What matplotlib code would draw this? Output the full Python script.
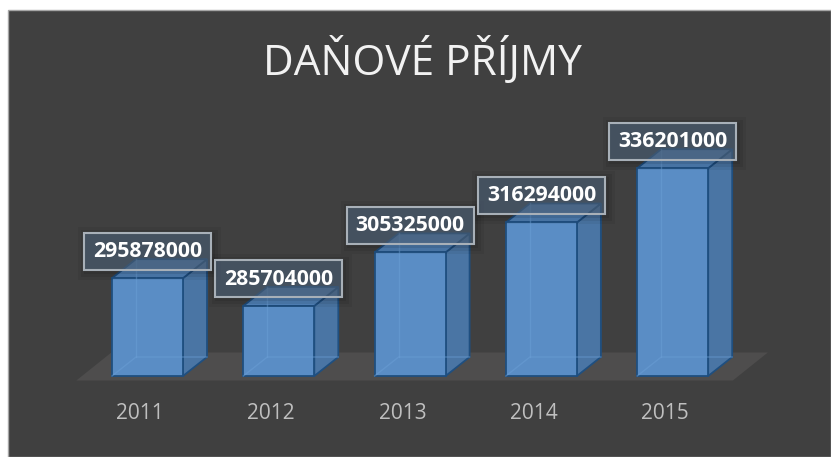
import matplotlib
matplotlib.use("Agg")
import matplotlib.pyplot as plt
from matplotlib.patches import Polygon, Rectangle
from matplotlib.lines import Line2D

# ---- data ----
categories = ["2011", "2012", "2013", "2014", "2015"]
values = [295878000, 285704000, 305325000, 316294000, 336201000]
label_texts = ["295878000", "285704000", "305325000", "316294000", "336201000"]
title = "DAŇOVÉ PŘÍJMY"
axis_min = 260000000

# ---- layout (pixels) ----
W, H = 831, 457
CENTER0_PX = 147.5      # x pixel of first category
STEP_PX = 131.3         # pixels per category
BASE_PY = 376.0         # y pixel (from top) of the axis minimum
PX_PER_VAL = 2.727e-6   # pixels per value unit
BAR_W = 71 / STEP_PX    # in category units
DEPTH = (24, 19)        # bar depth offset, px (right, up)
FLOOR_OFF = (-5.5, -4.5)  # floor front relative to bar front plane, px (right, up)
FLOOR_DEPTH = (35, 28)

fig = plt.figure(figsize=(W / 100, H / 100), dpi=100, facecolor="white")
fig.add_artist(Rectangle((7.5 / W, 0), (W - 7.5) / W, (H - 9.5) / H,
                         transform=fig.transFigure, facecolor="#404040",
                         edgecolor="#a6a6a6", linewidth=1.0, zorder=0))

ax = fig.add_axes([0, 0, 1, 1])
ax.set_xlim(-CENTER0_PX / STEP_PX, (W - CENTER0_PX) / STEP_PX)
ax.set_ylim(axis_min - (H - BASE_PY) / PX_PER_VAL, axis_min + BASE_PY / PX_PER_VAL)
ax.axis("off")
ax.patch.set_alpha(0)

def dx(px):
    return px / STEP_PX

def dy(px):
    return px / PX_PER_VAL

# floor
n = len(categories)
fx0 = -0.5 + dx(FLOOR_OFF[0])
fx1 = n - 0.5 + dx(FLOOR_OFF[0])
fy = axis_min + dy(FLOOR_OFF[1])
floor = Polygon([(fx0, fy), (fx1, fy),
                 (fx1 + dx(FLOOR_DEPTH[0]), fy + dy(FLOOR_DEPTH[1])),
                 (fx0 + dx(FLOOR_DEPTH[0]), fy + dy(FLOOR_DEPTH[1]))],
                closed=True, facecolor="#4e4d4d", edgecolor="none", zorder=1)
ax.add_patch(floor)

front_c = "#5a8dc5"
side_c = "#4a75a4"
top_c = "#5283ba"
edge_c = "#1f4f80"

xs = list(range(n))
heights = [v - axis_min for v in values]
bars = ax.bar(xs, heights, width=BAR_W, bottom=axis_min, color=front_c,
              edgecolor=edge_c, linewidth=1.3, zorder=4)

ddx, ddy = dx(DEPTH[0]), dy(DEPTH[1])
for x, v in zip(xs, values):
    l, r = x - BAR_W / 2, x + BAR_W / 2
    b = axis_min
    # hidden back edges (bars are slightly transparent)
    ax.add_line(Line2D([l + ddx, l + ddx], [b + ddy, v + ddy], color="#6b9fd6",
                       alpha=0.5, lw=1, zorder=4.5))
    ax.add_line(Line2D([l, l + ddx, r + ddx], [b, b + ddy, b + ddy], color="#6b9fd6",
                       alpha=0.5, lw=1, zorder=4.5))
    side = Polygon([(r, b), (r + ddx, b + ddy), (r + ddx, v + ddy), (r, v)],
                   closed=True, facecolor=side_c, edgecolor=edge_c, lw=1.3, zorder=3)
    top = Polygon([(l, v), (r, v), (r + ddx, v + ddy), (l + ddx, v + ddy)],
                  closed=True, facecolor=top_c, edgecolor=edge_c, lw=1.3, zorder=3)
    ax.add_patch(side)
    ax.add_patch(top)

# data labels with boxes (soft shadow, fill, border)
BOX_W, BOX_H, BOX_GAP = 127, 37, 27
for x, v, t in zip(xs, values, label_texts):
    cy = v + dy(BOX_GAP)
    for grow, a in [(8, 0.05), (5, 0.07), (2, 0.09)]:
        ax.add_patch(Rectangle((x - dx(BOX_W / 2 + grow) + dx(2), cy - dy(BOX_H / 2 + grow) - dy(2)),
                               dx(BOX_W + 2 * grow), dy(BOX_H + 2 * grow),
                               facecolor="black", alpha=a, edgecolor="none", zorder=5.5))
    ax.add_patch(Rectangle((x - dx(BOX_W / 2), cy - dy(BOX_H / 2)), dx(BOX_W), dy(BOX_H),
                           facecolor="#51667e", alpha=0.6, edgecolor="none", zorder=6))
    ax.add_patch(Rectangle((x - dx(BOX_W / 2), cy - dy(BOX_H / 2)), dx(BOX_W), dy(BOX_H),
                           facecolor="none", edgecolor="#a8b0b8", lw=1.5, zorder=6.5))
    ax.text(x, cy - dy(0.5), t, ha="center", va="center", fontsize=15.3,
            fontweight="bold", family="Open Sans", color="white", zorder=7)

# category labels
for x, c in zip(xs, categories):
    ax.text(x + dx(-7.5), axis_min - dy(419.3 - BASE_PY), c, ha="center", va="baseline",
            fontsize=15, family="Open Sans", color="#bfbfbf", zorder=7)

# title
ax.text(dx(422 - CENTER0_PX), axis_min + dy(BASE_PY - 75), title, ha="center",
        va="baseline", fontsize=30.5, family="Open Sans", fontweight="normal",
        color="#f2f2f2", zorder=7)

fig.savefig("out.png", dpi=100, facecolor=fig.get_facecolor())
